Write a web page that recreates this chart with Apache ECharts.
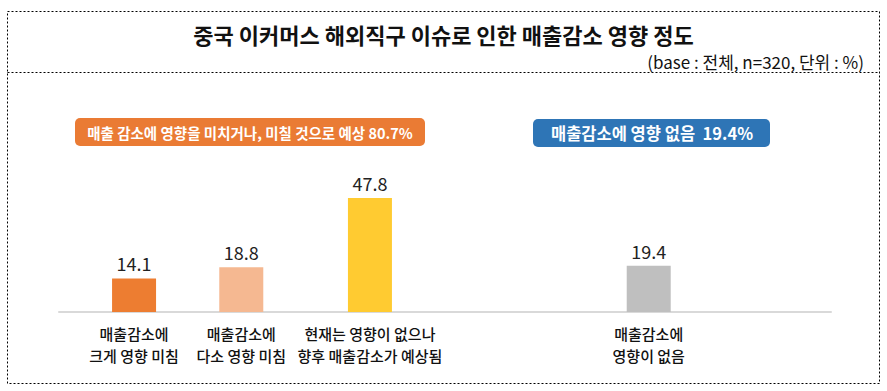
<!DOCTYPE html>
<html><head><meta charset="utf-8">
<script src="https://cdn.jsdelivr.net/npm/echarts@6/dist/echarts.min.js"></script>
<style>html,body{margin:0;padding:0;background:#fff}#c{width:887px;height:391px}</style>
</head><body><div id="c"></div>
<script>
const titleText = '중국 이커머스 해외직구 이슈로 인한 매출감소 영향 정도';
const subtitleText = '(base : 전체, n=320, 단위 : %)';
const categories = ['매출감소에\n크게 영향 미침', '매출감소에\n다소 영향 미침', '현재는 영향이 없으나\n향후 매출감소가 예상됨', '매출감소에\n영향이 없음'];
const values = [14.1, 18.8, 47.8, 19.4];
const barColors = ['#ED7D31', '#F5B891', '#FFCB31', '#BFBFBF'];
const badgeTexts = ['매출 감소에 영향을 미치거나, 미칠 것으로 예상 80.7%', '매출감소에 영향 없음  19.4%'];

// layout: categories placed on a 36-slot axis
const slotCount = 36;
const slotIndex = [3, 8, 14, 27];
const axisCats = new Array(slotCount).fill('');
const axisData = new Array(slotCount).fill(null);
slotIndex.forEach((s, i) => {
  axisCats[s] = categories[i];
  axisData[s] = { value: values[i], itemStyle: { color: barColors[i] } };
});

const FONT = '"Noto Sans CJK KR", "Noto Sans", sans-serif';
const chart = echarts.init(document.getElementById('c'), null, { renderer: 'svg' });
chart.setOption({
  backgroundColor: '#fff',
  animation: false,
  title: [
    { text: titleText, left: 'center', top: 18, textStyle: { fontFamily: FONT, fontSize: 22, fontWeight: 'bold', color: '#111' } },
    { text: subtitleText, right: 18, top: 48, textStyle: { fontFamily: FONT, fontSize: 17, fontWeight: 'normal', color: '#111' } }
  ],
  grid: { left: 59, width: 772, top: 169, height: 143 },
  xAxis: {
    type: 'category', data: axisCats,
    axisLine: { lineStyle: { color: '#D9D9D9', width: 2 } },
    axisTick: { show: false },
    axisLabel: { interval: 0, margin: 10, fontFamily: FONT, fontSize: 15, fontWeight: 500, lineHeight: 22, color: '#111' }
  },
  yAxis: { type: 'value', min: 0, max: 60, show: false },
  series: [{
    type: 'bar', data: axisData, barWidth: 44,
    label: { show: true, position: 'top', distance: 6, fontFamily: FONT, fontSize: 18, color: '#222', formatter: p => p.value.toFixed(1) }
  }],
  graphic: [
    { type: 'rect', shape: { x: 7.5, y: 11.5, width: 872, height: 372 }, style: { fill: 'none', stroke: '#000', lineWidth: 1, lineDash: [2, 2] }, silent: true },
    { type: 'line', shape: { x1: 7.5, y1: 72.5, x2: 879.5, y2: 72.5 }, style: { stroke: '#000', lineWidth: 1, lineDash: [2, 2] }, silent: true },
    { type: 'rect', shape: { x: 75, y: 118, width: 350, height: 28, r: 5 }, style: { fill: '#EA7B34' } },
    { type: 'text', x: 250, y: 132, style: { text: badgeTexts[0], fill: '#fff', font: 'bold 14.5px ' + FONT, align: 'center', verticalAlign: 'middle' } },
    { type: 'rect', shape: { x: 533, y: 119, width: 237, height: 28, r: 5 }, style: { fill: '#2E75B6' } },
    { type: 'text', x: 652, y: 133, style: { text: badgeTexts[1], fill: '#fff', font: 'bold 16.5px ' + FONT, align: 'center', verticalAlign: 'middle' } }
  ]
});
</script></body></html>
